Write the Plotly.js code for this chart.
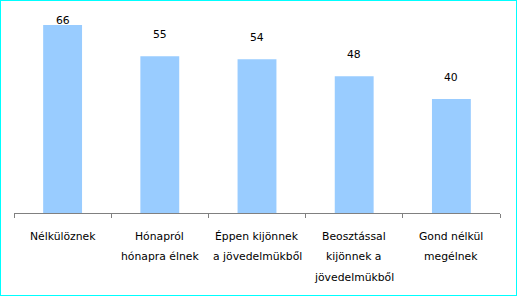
<!DOCTYPE html>
<html><head><meta charset="utf-8">
<script src="https://cdn.plot.ly/plotly-3.0.1.min.js"></script>
<style>
html,body{margin:0;padding:0;background:#fff;}
#wrap{position:relative;width:517px;height:296px;}
#chart{width:517px;height:296px;}
#frame{position:absolute;left:0;top:0;width:517px;height:296px;box-sizing:border-box;border:1px solid #00FFFF;pointer-events:none;}
</style></head>
<body>
<div id="wrap"><div id="chart"></div><div id="frame"></div></div>
<script>
const categories = ["Nélkülöznek", "Hónapról<br>hónapra élnek", "Éppen kijönnek<br>a jövedelmükből", "Beosztással<br>kijönnek a<br>jövedelmükből", "Gond nélkül<br>megélnek"];
const values = [66, 55, 54, 48, 40];

const font = {family: "DejaVu Sans, Verdana, sans-serif", size: 10.8, color: "#000"};
const yMax = 70.2;
const plotH = 200;
const pxPerUnit = plotH / yMax;

const annotations = [];
categories.forEach((c, i) => {
  c.split("<br>").forEach((line, j) => {
    annotations.push({x: i, y: 0, xref: "x", yref: "y", text: line, showarrow: false,
      yanchor: "middle", yshift: -(23 + 20.5 * j), font: font});
  });
});
values.forEach((v, i) => {
  const shift = 13;
  const topPx = (v * pxPerUnit) + shift + 13;
  if (topPx > plotH) {
    annotations.push({x: i, y: 1, xref: "x", yref: "paper", text: String(v), showarrow: false,
      yanchor: "top", yshift: 1, font: font});
  } else {
    annotations.push({x: i, y: v, xref: "x", yref: "y", text: String(v), showarrow: false,
      yanchor: "bottom", yshift: shift, font: font});
  }
});

const data = [{
  type: "bar",
  x: categories.map((c, i) => i),
  y: values,
  marker: {color: "#99CCFF"},
  hoverinfo: "none"
}];

const layout = {
  width: 517, height: 296,
  margin: {l: 14, r: 17, t: 13, b: 83},
  paper_bgcolor: "#fff", plot_bgcolor: "#fff",
  bargap: 0.6,
  showlegend: false,
  xaxis: {type: "linear", range: [-0.5, 4.5], showline: true, linecolor: "#808080", linewidth: 1,
    tickmode: "array", tickvals: [-0.5, 0.5, 1.5, 2.5, 3.5, 4.5], ticks: "outside", ticklen: 4,
    tickcolor: "#808080", showticklabels: false, showgrid: false, zeroline: false, fixedrange: true},
  yaxis: {range: [0, yMax], visible: false, showgrid: false, zeroline: false},
  annotations: annotations
};

Plotly.newPlot("chart", data, layout, {displayModeBar: false, staticPlot: true});
</script>
</body></html>
